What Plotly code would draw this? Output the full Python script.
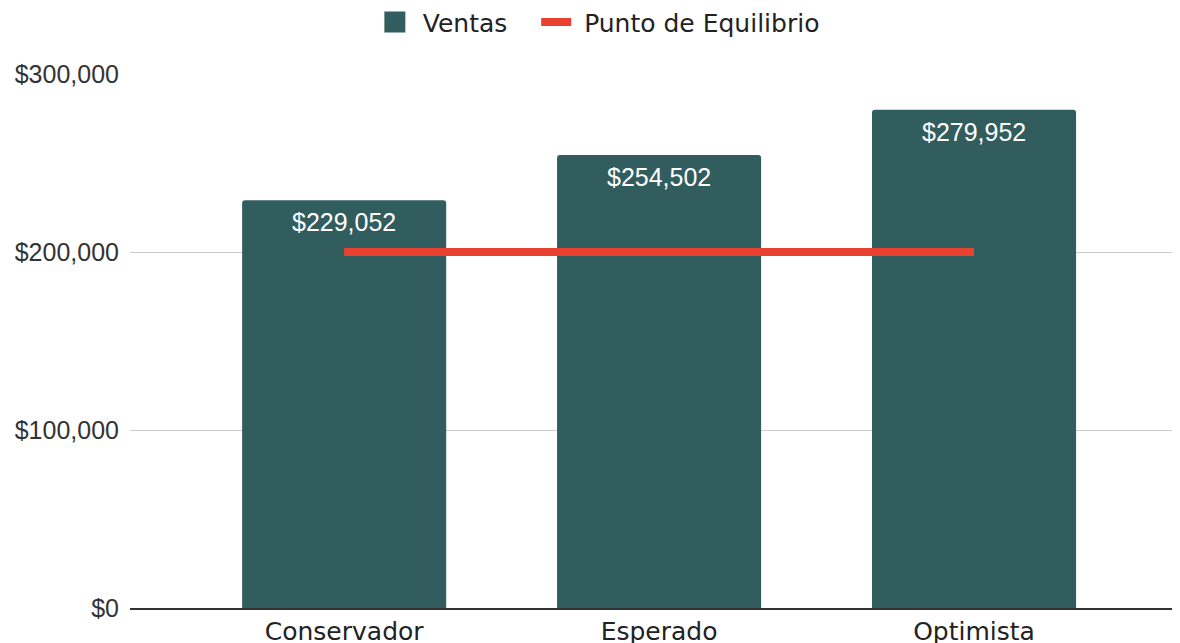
import plotly.graph_objects as go

categories = ["Conservador", "Esperado", "Optimista"]
ventas = [229052, 254502, 279952]
equilibrio = [200000, 200000, 200000]
bar_labels = ["$229,052", "$254,502", "$279,952"]
y_ticks = [0, 100000, 200000, 300000]
y_tick_text = ["$0", "$100,000", "$200,000", "$300,000"]

BAR_COLOR = "#325D5E"
LINE_COLOR = "#E8412F"
NB = "\u00a0"

fig = go.Figure()
fig.add_trace(go.Bar(
    x=categories, y=ventas, name="Ventas", showlegend=False,
    marker=dict(color=BAR_COLOR, line=dict(width=0)),
    width=0.648,
))
# legend-only marker for the bars (square swatch)
fig.add_trace(go.Scatter(
    x=[None], y=[None], name=NB + "Ventas" + NB * 3, mode="markers",
    marker=dict(symbol="square", size=16, color=BAR_COLOR,
                line=dict(color=BAR_COLOR, width=5)),
))
fig.add_trace(go.Scatter(
    x=categories, y=equilibrio, name=NB + "Punto de Equilibrio",
    mode="lines", line=dict(color=LINE_COLOR, width=8),
))

for cat, val, lab in zip(categories, ventas, bar_labels):
    fig.add_annotation(x=cat, y=val, text=lab, showarrow=False,
                       yanchor="top", yshift=-6,
                       font=dict(family="Liberation Sans, Arial", size=25, color="white"))

fig.update_layout(
    width=1172, height=635,
    margin=dict(l=122, r=0, t=66, b=35, autoexpand=False),
    plot_bgcolor="white", paper_bgcolor="white",
    barcornerradius=3,
    showlegend=True,
    legend=dict(orientation="h", xref="container", yref="paper",
                x=0.505, xanchor="center", y=1.097, yanchor="middle",
                font=dict(family="DejaVu Sans, Verdana", size=25, color="#222"),
                itemwidth=30, itemsizing="trace", traceorder="normal"),
    xaxis=dict(type="category", range=[-0.68, 2.654],
               showgrid=False, showline=True, linecolor="#333", linewidth=2,
               ticks="", tickfont=dict(family="DejaVu Sans, Verdana", size=25, color="#222"),
               ticklabelstandoff=0, automargin=False),
    yaxis=dict(range=[0, 300000], tickvals=y_ticks, ticktext=y_tick_text,
               showgrid=True, gridcolor="#cccccc", gridwidth=1,
               zeroline=False, showline=False, ticks="",
               tickfont=dict(family="Liberation Sans, Arial", size=25, color="#333"),
               ticklabelstandoff=10, automargin=False),
)
fig.write_html("out.html")
